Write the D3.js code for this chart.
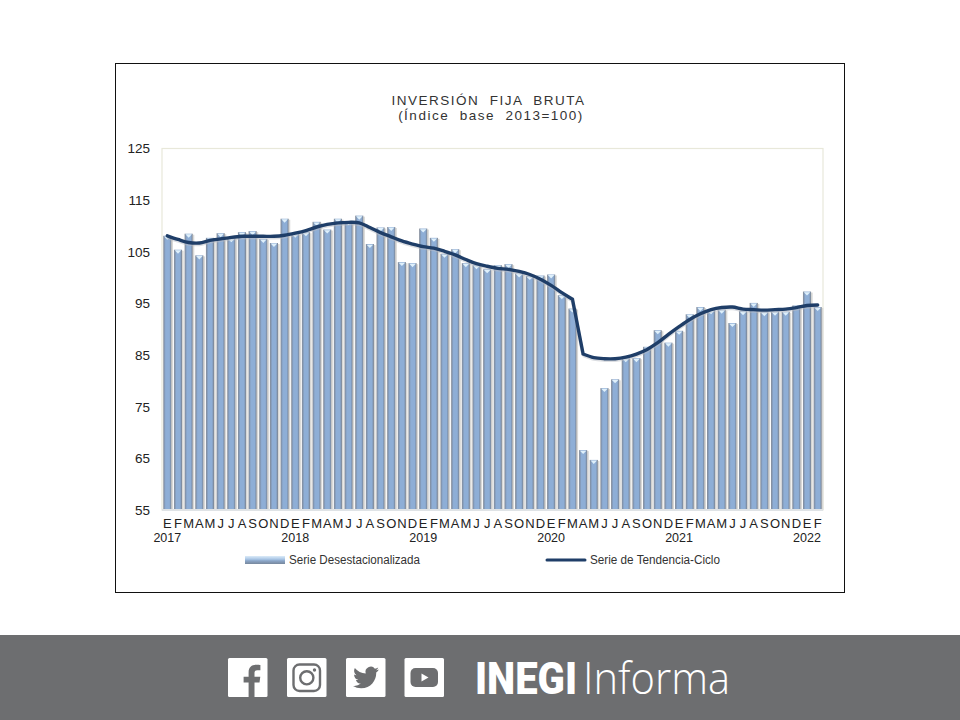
<!DOCTYPE html>
<html><head><meta charset="utf-8">
<script src="https://cdn.jsdelivr.net/npm/d3@7"></script>
<style>html,body{margin:0;padding:0;background:#fff}svg{display:block}text{font-family:"Liberation Sans",Arial,sans-serif}</style>
</head><body><svg id="c" width="960" height="720"></svg>
<script>
const monthLetters = ["E","F","M","A","M","J","J","A","S","O","N","D"];
const yearLabels = ["2017","2018","2019","2020","2021","2022"];
const yAxisTicks = [55,65,75,85,95,105,115,125];
const serieDesestacionalizada = [
108.1,105.4,108.5,104.3,107.7,108.6,107.6,108.8,109.0,107.5,106.7,111.4,
108.5,108.8,110.8,109.3,111.4,110.9,112.0,106.5,109.7,109.8,103.0,102.8,
109.5,107.7,104.6,105.5,102.8,102.4,101.6,102.4,102.6,100.8,100.3,100.4,
100.6,96.6,94.0,66.6,64.7,78.6,80.3,84.4,84.4,86.6,89.8,87.4,
89.7,92.9,94.3,93.7,93.8,91.2,93.5,95.1,93.3,93.4,93.4,94.6,
97.3,94.3];
const serieTendencia = [
108.1,107.4,106.8,106.7,107.2,107.5,107.8,108.0,108.0,108.0,108.0,108.2,
108.6,109.1,109.8,110.3,110.6,110.7,110.6,109.7,108.7,107.9,107.1,106.5,
106.0,105.7,105.1,104.4,103.5,102.7,102.2,101.8,101.6,101.2,100.6,99.7,
98.5,97.1,95.8,85.2,84.5,84.3,84.3,84.6,85.2,86.1,87.4,89.0,
90.5,91.9,93.0,93.8,94.2,94.3,93.9,93.8,93.7,93.8,93.9,94.2,
94.6,94.7];
const titleLines = ["INVERSIÓN  FIJA  BRUTA","(Índice  base  2013=100)"];
const legendNames = ["Serie Desestacionalizada","Serie de Tendencia-Ciclo"];

const svg = d3.select("#c");
const defs = svg.append("defs");
const g1 = defs.append("linearGradient").attr("id","barG");
[[0,"#868b94"],[0.14,"#8297b4"],[0.3,"#8eaed6"],[0.75,"#8eaed6"],[0.9,"#7f93ae"],[1,"#7f8288"]]
 .forEach(([o,c])=>g1.append("stop").attr("offset",o).attr("stop-color",c));
const g2 = defs.append("linearGradient").attr("id","legG").attr("x2",0).attr("y2",1);
[[0,"#dcebf8"],[0.4,"#a9c6e6"],[0.6,"#8ba6c8"],[1,"#77879c"]]
 .forEach(([o,c])=>g2.append("stop").attr("offset",o).attr("stop-color",c));
const blur = defs.append("filter").attr("id","soft").attr("x","-5%").attr("y","-5%").attr("width","110%").attr("height","110%");
blur.append("feGaussianBlur").attr("stdDeviation",0.35);

svg.append("rect").attr("x",115.5).attr("y",63.5).attr("width",729).attr("height",529)
  .attr("fill","#fff").attr("stroke","#111").attr("stroke-width",1);

const L=162,R=823,T=148.5,B=510;
const idx = d3.range(serieDesestacionalizada.length);
const x = d3.scaleBand().domain(idx).range([L,R]).paddingInner(0.24).paddingOuter(0.12);
const y = d3.scaleLinear().domain([55,125]).range([B,T]);

svg.append("rect").attr("x",L).attr("y",T).attr("width",R-L).attr("height",B-T)
  .attr("fill","#fff").attr("stroke","#e8e8da").attr("stroke-width",1.2);

const plot = svg.append("g").attr("filter","url(#soft)");
plot.selectAll("rect.sh").data(idx).join("rect").attr("class","sh")
  .attr("x",i=>x(i)+x.bandwidth()).attr("width",1.6)
  .attr("y",i=>y(serieDesestacionalizada[i])+1).attr("height",i=>B-y(serieDesestacionalizada[i])-1)
  .attr("fill","#d8d8d6");
plot.selectAll("rect.bar").data(idx).join("rect").attr("class","bar")
  .attr("x",i=>x(i)).attr("width",x.bandwidth())
  .attr("y",i=>y(serieDesestacionalizada[i])).attr("height",i=>B-y(serieDesestacionalizada[i]))
  .attr("fill","url(#barG)");
plot.selectAll("path.cap").data(idx).join("path").attr("class","cap")
  .attr("d",i=>{const a=x(i),b=a+x.bandwidth(),t=y(serieDesestacionalizada[i]),m=(a+b)/2;
    return `M${a+0.8},${t+0.6}L${b-0.8},${t+0.6}L${m},${t+4}Z`;})
  .attr("fill","#dff0fb");
plot.append("rect").attr("x",L).attr("y",B-1).attr("width",R-L).attr("height",2).attr("fill","#dfe3e6");

// The trend line is smooth except at the sharp fall, which is a straight segment with corners.
const dropAt = d3.greatestIndex(idx.slice(1), i => serieTendencia[i-1]-serieTendencia[i]);
const smooth = d3.line().x(i=>x(i)+x.bandwidth()/2).y(i=>y(serieTendencia[i])).curve(d3.curveCatmullRom.alpha(0.5));
const straight = d3.line().x(i=>x(i)+x.bandwidth()/2).y(i=>y(serieTendencia[i]));
const trendD = smooth(idx.slice(0,dropAt+1)) + straight(idx.slice(dropAt,dropAt+2)) + smooth(idx.slice(dropAt+1));
svg.append("path").attr("d",trendD).attr("fill","none").attr("stroke","#b9bec6")
  .attr("stroke-width",3.4).attr("stroke-opacity",0.5).attr("transform","translate(0,1.5)").attr("filter","url(#soft)");
svg.append("path").attr("d",trendD).attr("fill","none").attr("stroke","#1f3e68")
  .attr("stroke-width",3.4).attr("stroke-linecap","round").attr("stroke-linejoin","round");

const yAxis = svg.append("g").attr("transform",`translate(${L},0)`)
  .call(d3.axisLeft(y).tickValues(yAxisTicks).tickSize(0).tickPadding(12));
yAxis.select(".domain").remove();
yAxis.selectAll("text").attr("font-size",13.5).attr("fill","#222").attr("font-family","Liberation Sans");

const xAxis = svg.append("g").attr("transform",`translate(0,${B})`)
  .call(d3.axisBottom(x).tickSize(0).tickPadding(8.5).tickFormat(i=>monthLetters[i%12]));
xAxis.select(".domain").remove();
xAxis.selectAll("text").attr("font-size",13).attr("fill","#222").attr("font-family","Liberation Sans");

svg.selectAll("text.yr").data(yearLabels).join("text").attr("class","yr")
  .attr("x",(d,k)=>x(k*12)+x.bandwidth()/2).attr("y",541.5)
  .attr("text-anchor","middle").attr("font-size",12.5).attr("fill","#222").text(d=>d);

svg.selectAll("text.ttl").data(titleLines).join("text").attr("class","ttl")
  .attr("x",(d,k)=>k?491:488.5).attr("y",(d,k)=>104.5+k*15)
  .attr("text-anchor","middle").attr("font-size",13.5).attr("letter-spacing",1.5)
  .attr("fill","#333").attr("xml:space","preserve").style("white-space","pre").text(d=>d);

svg.append("rect").attr("x",245).attr("y",556).attr("width",40).attr("height",8).attr("fill","url(#legG)");
svg.append("text").attr("x",289).attr("y",564).attr("font-size",12.5).attr("fill","#333")
  .attr("textLength",131).attr("lengthAdjust","spacingAndGlyphs").text(legendNames[0]);
svg.append("line").attr("x1",547).attr("x2",585).attr("y1",560).attr("y2",560).attr("stroke","#1f3e68")
  .attr("stroke-width",3).attr("stroke-linecap","round");
svg.append("text").attr("x",590).attr("y",564).attr("font-size",12.5).attr("fill","#333")
  .attr("textLength",130).attr("lengthAdjust","spacingAndGlyphs").text(legendNames[1]);

svg.append("rect").attr("x",0).attr("y",635).attr("width",960).attr("height",85).attr("fill","#6d6e70");
const icons=[228,287,346,404.5];
const icon = svg.selectAll("g.ic").data(icons).join("g").attr("class","ic").attr("transform",d=>`translate(${d},658)`);
icon.append("rect").attr("width",39.5).attr("height",39).attr("rx",1.5).attr("fill","#fff");
const grey="#6d6e70";
d3.select(icon.nodes()[0]).append("path").attr("fill",grey)
  .attr("d","M26.5 39V24.5h5l.8-5.8h-5.8V15c0-1.7.5-2.8 2.9-2.8h3V7c-.5-.1-2.3-.2-4.4-.2-4.4 0-7.4 2.7-7.4 7.6v4.3h-5v5.8h5V39z");
const ig=d3.select(icon.nodes()[1]);
ig.append("rect").attr("x",6.5).attr("y",6.5).attr("width",26.5).attr("height",26.5).attr("rx",6).attr("fill","none").attr("stroke",grey).attr("stroke-width",2.4);
ig.append("circle").attr("cx",19.8).attr("cy",19.8).attr("r",6.6).attr("fill","none").attr("stroke",grey).attr("stroke-width",2.4);
ig.append("circle").attr("cx",27.5).attr("cy",12).attr("r",1.7).attr("fill",grey);
d3.select(icon.nodes()[2]).append("g").attr("transform","translate(7,6.5) scale(1.08)").append("path").attr("fill",grey)
  .attr("d","M24 4.6c-.9.4-1.8.7-2.8.8 1-.6 1.8-1.6 2.2-2.7-1 .6-2 1-3.1 1.2A4.9 4.9 0 0 0 11.8 8.4 14 14 0 0 1 1.7 3.3a4.9 4.9 0 0 0 1.5 6.6c-.8 0-1.6-.2-2.2-.6v.1c0 2.4 1.7 4.4 3.9 4.8-.7.2-1.5.2-2.2.1.6 2 2.4 3.4 4.6 3.4A9.9 9.9 0 0 1 0 19.8 14 14 0 0 0 7.5 22c9.1 0 14-7.5 14-14v-.6c1-.7 1.8-1.6 2.5-2.8z");
const yt=d3.select(icon.nodes()[3]);
yt.append("rect").attr("x",6).attr("y",10).attr("width",27.5).attr("height",19).attr("rx",5).attr("fill",grey);
yt.append("path").attr("d","M17 15.5L24 19.5L17 23.5Z").attr("fill","#fff");

svg.append("text").attr("x",475).attr("y",693.5).attr("font-size",44).attr("font-weight",900)
  .attr("fill","#fff").style("font-family","Roboto").attr("textLength",102).attr("lengthAdjust","spacingAndGlyphs").text("INEGI");
svg.append("text").attr("x",583).attr("y",693.5).attr("font-size",44).attr("font-weight",300)
  .attr("fill","#fff").style("font-family","Open Sans").attr("textLength",147).attr("lengthAdjust","spacingAndGlyphs").text("Informa");
</script></body></html>
